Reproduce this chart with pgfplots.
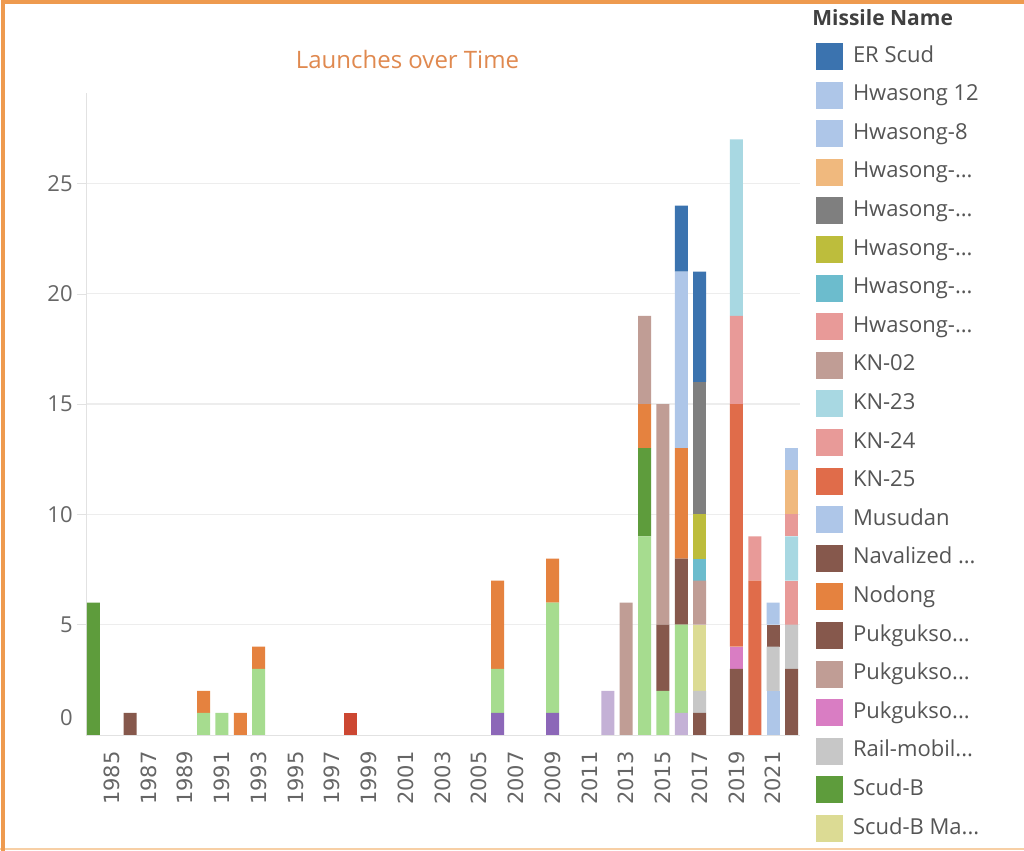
\documentclass[border=0pt]{standalone}
\usepackage{pgfplots}
\pgfplotsset{compat=1.18}
\usepackage{pgfplotstable}
\usepackage{fontspec}
\setmainfont{Open Sans}
\newfontfamily\dejavu{DejaVu Sans}

\definecolor{cLav}{HTML}{C4B1D6}
\definecolor{cPur}{HTML}{8C67B8}
\definecolor{cRed}{HTML}{CC4732}
\definecolor{cLgr}{HTML}{A6DC8F}
\definecolor{cBrn}{HTML}{86584C}
\definecolor{cLbl}{HTML}{AEC6E8}
\definecolor{cLgy}{HTML}{C7C7C7}
\definecolor{cKha}{HTML}{DCDB94}
\definecolor{cDgr}{HTML}{5E9C3C}
\definecolor{cPnk}{HTML}{D97DC3}
\definecolor{cSal}{HTML}{E89A98}
\definecolor{cOra}{HTML}{E5823F}
\definecolor{cRos}{HTML}{C09D95}
\definecolor{cKtf}{HTML}{E06C4A}
\definecolor{cKtt}{HTML}{A8D8E2}
\definecolor{cCya}{HTML}{6CBCCD}
\definecolor{cOli}{HTML}{BDBD3C}
\definecolor{cGry}{HTML}{7F7F7F}
\definecolor{cLor}{HTML}{F0B97E}
\definecolor{cErs}{HTML}{3B73AF}
\definecolor{tickgray}{HTML}{666666}
\definecolor{leggray}{HTML}{555555}
\definecolor{gridgray}{HTML}{EDEDED}
\definecolor{axgray}{HTML}{E2E2E2}
\definecolor{titleor}{HTML}{E0894F}
\definecolor{frameor}{HTML}{EE9A4F}
\definecolor{framelt}{HTML}{F7CFA5}

\pgfplotsset{sw/.style={legend image code/.code={\fill[##1, draw=none] (0pt,-6.75pt) rectangle (13.5pt,6.75pt);}}}

\pgfplotstableread{
year lav pur red lgr brA lbA lgy kha dgr pnk slA brB ora ros lbM ktf ktv ktt slB cya oli gry lor lbT ers
1984 0 0 0 0 0 0 0 0 6 0 0 0 0 0 0 0 0 0 0 0 0 0 0 0 0
1986 0 0 0 0 1 0 0 0 0 0 0 0 0 0 0 0 0 0 0 0 0 0 0 0 0
1990 0 0 0 1 0 0 0 0 0 0 0 0 1 0 0 0 0 0 0 0 0 0 0 0 0
1991 0 0 0 1 0 0 0 0 0 0 0 0 0 0 0 0 0 0 0 0 0 0 0 0 0
1992 0 0 0 0 0 0 0 0 0 0 0 0 1 0 0 0 0 0 0 0 0 0 0 0 0
1993 0 0 0 3 0 0 0 0 0 0 0 0 1 0 0 0 0 0 0 0 0 0 0 0 0
1998 0 0 1 0 0 0 0 0 0 0 0 0 0 0 0 0 0 0 0 0 0 0 0 0 0
2006 0 1 0 2 0 0 0 0 0 0 0 0 4 0 0 0 0 0 0 0 0 0 0 0 0
2009 0 1 0 5 0 0 0 0 0 0 0 0 2 0 0 0 0 0 0 0 0 0 0 0 0
2012 2 0 0 0 0 0 0 0 0 0 0 0 0 0 0 0 0 0 0 0 0 0 0 0 0
2013 0 0 0 0 0 0 0 0 0 0 0 0 0 6 0 0 0 0 0 0 0 0 0 0 0
2014 0 0 0 9 0 0 0 0 4 0 0 0 2 4 0 0 0 0 0 0 0 0 0 0 0
2015 0 0 0 2 3 0 0 0 0 0 0 0 0 10 0 0 0 0 0 0 0 0 0 0 0
2016 1 0 0 4 3 0 0 0 0 0 0 0 5 0 8 0 0 0 0 0 0 0 0 0 3
2017 0 0 0 0 1 0 1 3 0 0 0 0 0 2 0 0 0 0 0 1 2 6 0 0 5
2019 0 0 0 0 3 0 0 0 0 1 0 0 0 0 0 11 4 8 0 0 0 0 0 0 0
2020 0 0 0 0 0 0 0 0 0 0 0 0 0 0 0 7 2 0 0 0 0 0 0 0 0
2021 0 0 0 0 0 2 2 0 0 0 0 1 0 0 1 0 0 0 0 0 0 0 0 0 0
2022 0 0 0 0 3 0 2 0 0 0 2 0 0 0 0 0 0 2 1 0 0 0 2 1 0
}\data

\begin{document}
\begin{tikzpicture}
\useasboundingbox (0,0) rectangle (512pt,425.5pt);
\fill[white] (0,0) rectangle (512pt,425.5pt);
\begin{axis}[
  at={(43pt,58pt)}, anchor=south west,
  scale only axis, width=357pt, height=321pt,
  ybar stacked, bar width=6.5pt,
  xmin=1983.6, xmax=2022.46, ymin=0, ymax=29.1,
  axis lines=left, axis line style={axgray, -},
  xtick={1985,1987,1989,1991,1993,1995,1997,1999,2001,2003,2005,2007,2009,2011,2013,2015,2017,2019,2021},
  xticklabels={1985,1987,1989,1991,1993,1995,1997,1999,2001,2003,2005,2007,2009,2011,2013,2015,2017,2019,2021},
  xtick style={draw=none},
  xticklabel style={rotate=90, anchor=east, inner sep=0pt, font=\dejavu\fontsize{10.5pt}{12pt}\selectfont, text=tickgray},
  xticklabel shift=3.5pt,
  ytick={5,10,15,20,25}, yticklabels={5,10,15,20,25},
  extra y ticks={0.77}, extra y tick labels={0},
  extra y tick style={grid=none, major tick length=0pt, yticklabel style={xshift=-4.5pt}},
  ymajorgrids, grid style={gridgray, line width=0.6pt},
  ytick style={axgray}, tick align=outside, major tick length=4.5pt,
  yticklabel style={inner sep=0pt, xshift=-2pt, font=\fontsize{11pt}{13pt}\selectfont, text=tickgray},
  clip=false,
  legend cell align=left,
  legend style={draw=none, fill=none, at={(1.0224,1.0779)}, anchor=north west,
    inner sep=0pt, outer sep=0pt, row sep=5.8pt, column sep=5pt,
    font=\fontsize{11pt}{13pt}\selectfont, text=leggray,
    nodes={inner sep=0pt, text height=8pt, text depth=2.3pt}},
]
\addplot[fill=cLav, draw=none, forget plot] table[x=year,y=lav]{\data};
\addplot[fill=cPur, draw=none, forget plot] table[x=year,y=pur]{\data};
\addplot[fill=cRed, draw=none, forget plot] table[x=year,y=red]{\data};
\addplot[fill=cLgr, draw=none, forget plot] table[x=year,y=lgr]{\data};
\addplot[fill=cBrn, draw=none, forget plot] table[x=year,y=brA]{\data};
\addplot[fill=cLbl, draw=none, forget plot] table[x=year,y=lbA]{\data};
\addplot[fill=cLgy, draw=none, forget plot] table[x=year,y=lgy]{\data};
\addplot[fill=cKha, draw=none, forget plot] table[x=year,y=kha]{\data};
\addplot[fill=cDgr, draw=none, forget plot] table[x=year,y=dgr]{\data};
\addplot[fill=cPnk, draw=none, forget plot] table[x=year,y=pnk]{\data};
\addplot[fill=cSal, draw=none, forget plot] table[x=year,y=slA]{\data};
\addplot[fill=cBrn, draw=none, forget plot] table[x=year,y=brB]{\data};
\addplot[fill=cOra, draw=none, forget plot] table[x=year,y=ora]{\data};
\addplot[fill=cRos, draw=none, forget plot] table[x=year,y=ros]{\data};
\addplot[fill=cLbl, draw=none, forget plot] table[x=year,y=lbM]{\data};
\addplot[fill=cKtf, draw=none, forget plot] table[x=year,y=ktf]{\data};
\addplot[fill=cSal, draw=none, forget plot] table[x=year,y=ktv]{\data};
\addplot[fill=cKtt, draw=none, forget plot] table[x=year,y=ktt]{\data};
\addplot[fill=cSal, draw=none, forget plot] table[x=year,y=slB]{\data};
\addplot[fill=cCya, draw=none, forget plot] table[x=year,y=cya]{\data};
\addplot[fill=cOli, draw=none, forget plot] table[x=year,y=oli]{\data};
\addplot[fill=cGry, draw=none, forget plot] table[x=year,y=gry]{\data};
\addplot[fill=cLor, draw=none, forget plot] table[x=year,y=lor]{\data};
\addplot[fill=cLbl, draw=none, forget plot] table[x=year,y=lbT]{\data};
\addplot[fill=cErs, draw=none, forget plot] table[x=year,y=ers]{\data};

\addlegendimage{sw, fill=cErs}\addlegendentry{ER Scud}
\addlegendimage{sw, fill=cLbl}\addlegendentry{Hwasong 12}
\addlegendimage{sw, fill=cLbl}\addlegendentry{Hwasong-8}
\addlegendimage{sw, fill=cLor}\addlegendentry{Hwasong-...}
\addlegendimage{sw, fill=cGry}\addlegendentry{Hwasong-...}
\addlegendimage{sw, fill=cOli}\addlegendentry{Hwasong-...}
\addlegendimage{sw, fill=cCya}\addlegendentry{Hwasong-...}
\addlegendimage{sw, fill=cSal}\addlegendentry{Hwasong-...}
\addlegendimage{sw, fill=cRos}\addlegendentry{KN-02}
\addlegendimage{sw, fill=cKtt}\addlegendentry{KN-23}
\addlegendimage{sw, fill=cSal}\addlegendentry{KN-24}
\addlegendimage{sw, fill=cKtf}\addlegendentry{KN-25}
\addlegendimage{sw, fill=cLbl}\addlegendentry{Musudan}
\addlegendimage{sw, fill=cBrn}\addlegendentry{Navalized ...}
\addlegendimage{sw, fill=cOra}\addlegendentry{Nodong}
\addlegendimage{sw, fill=cBrn}\addlegendentry{Pukgukso...}
\addlegendimage{sw, fill=cRos}\addlegendentry{Pukgukso...}
\addlegendimage{sw, fill=cPnk}\addlegendentry{Pukgukso...}
\addlegendimage{sw, fill=cLgy}\addlegendentry{Rail-mobil...}
\addlegendimage{sw, fill=cDgr}\addlegendentry{Scud-B}
\addlegendimage{sw, fill=cKha}\addlegendentry{Scud-B Ma...}
\end{axis}
\node[font=\fontsize{12pt}{14pt}\selectfont, text=titleor] at (203.75pt,395.5pt) {Launches over Time};
\node[anchor=west, inner sep=0pt, font=\bfseries\fontsize{10.5pt}{12pt}\selectfont, text=black!75] at (406pt,416.5pt) {Missile Name};
\draw[framelt, line width=1.2pt] (0pt,1pt) -- (512pt,1pt);
\draw[frameor, line width=1.6pt] (1.5pt,0pt) -- (1.5pt,424.5pt) -- (512pt,424.5pt);
\end{tikzpicture}
\end{document}
